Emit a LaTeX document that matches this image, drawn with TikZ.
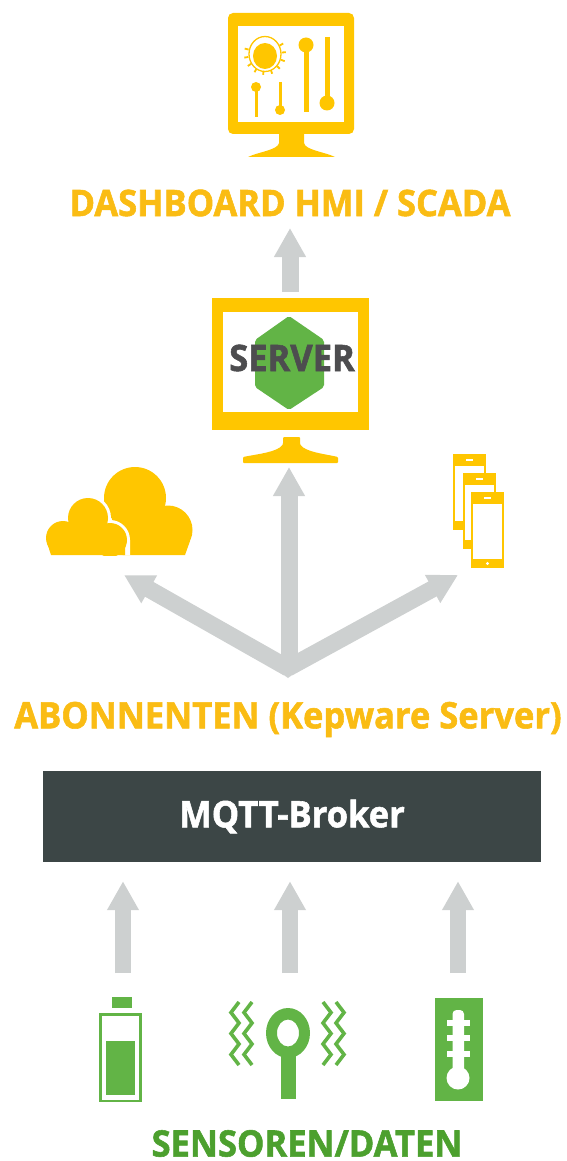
\documentclass[tikz,border=0pt]{standalone}
\usepackage{fontspec}
\setmainfont{Open Sans}[BoldFeatures={FakeBold=1.5,FakeStretch=0.945}]
\usetikzlibrary{positioning,arrows.meta,calc}
\definecolor{myyellow}{RGB}{255, 198, 0}
\definecolor{mytitle}{RGB}{250, 188, 20}
\definecolor{mygreen}{RGB}{98, 180, 70}
\definecolor{mygreentext}{RGB}{76, 160, 46}
\definecolor{mygray}{RGB}{205, 208, 208}
\definecolor{mybroker}{RGB}{60, 70, 70}
\definecolor{mytext}{RGB}{77, 77, 79}
\tikzset{
    flowarrow/.style={draw=mygray, line width=17pt, -{Triangle[length=29pt, width=30pt]}},
    boldtext/.style={font=\fontsize{36.5}{40}\selectfont\bfseries, inner sep=0pt},
    zigzag/.style={draw=mygreen, line width=3.6pt, line join=miter},
}

\begin{document}
\begin{tikzpicture}[x=1pt, y=-1pt]
    \useasboundingbox (0,0) rectangle (566,1161);

    % Dashboard monitor
    \fill[myyellow, rounded corners=5pt] (228,13) rectangle (354,134);
    \fill[white] (238,26) rectangle (344,122);
    \fill[myyellow] (279,134) -- (304,134) -- (304,143) .. controls (305,150) and (325,152) .. (335,157) -- (248,157) .. controls (258,152) and (278,150) .. (279,143) -- cycle;
    % Bulb and sliders
    \fill[myyellow] (265,56) ellipse [x radius=12, y radius=13];
    \draw[myyellow, line width=1.3pt] (265,54) ellipse [x radius=16, y radius=17.5];
    \foreach \a in {-30,-5,...,210} {
        \draw[myyellow, line width=1.8pt] ($(265,54)+(\a:17)$) -- ($(265,54)+(\a:21)$);
    }
    \foreach \x/\ya/\yb/\yk/\r/\w in {256/87/117/87/5/3, 280/82/110/110/5/3, 306/45/112/45/7.5/5, 327/37/103/103/7.5/5} {
        \draw[myyellow, line width=\w pt] (\x,\ya) -- (\x,\yb);
        \fill[myyellow] (\x,\yk) circle [radius=\r];
    }
    \node[boldtext, text=mytitle] (dashboardlabel) at (290,203) {DASHBOARD HMI / SCADA};

    % Server monitor
    \fill[myyellow] (212,298) rectangle (369,430);
    \fill[white] (223,312) rectangle (358,412);
    \fill[myyellow, rounded corners=1pt] (283,437) -- (300,437) -- (300,444) .. controls (305,452) and (325,454) .. (338,457) -- (338,463) -- (243,463) -- (243,457) .. controls (258,454) and (278,452) .. (283,444) -- cycle;
    \fill[mygreen, rounded corners=2pt] (289,316) -- (324,340) -- (324,387) -- (289,410) -- (255,387) -- (255,340) -- cycle;
    \node[boldtext, text=mytext] (serverlabel) at (292,358) {SERVER};

    % Cloud
    \begin{scope}
        \clip (40,440) rectangle (200,555);
        \fill[myyellow] (135,498) circle [radius=31];
        \fill[myyellow] (168,530) circle [radius=24.5];
        \fill[myyellow] (112,510) -- (168,510) -- (168,530) -- (190,541) -- (185,555) -- (112,555) -- cycle;
        \draw[white, line width=6pt] (88,518) circle [radius=20] (63,538) circle [radius=17] (110,540) circle [radius=17] (127,540) -- (127,555);
        \fill[myyellow] (88,518) circle [radius=20];
        \fill[myyellow] (63,538) circle [radius=17];
        \fill[myyellow] (110,540) circle [radius=17];
        \fill[myyellow] (63,538) -- (47.5,544) -- (51,555) -- (125,555) -- (125,540) -- (110,525) -- cycle;
    \end{scope}

    % Phones
    \foreach \x/\y in {453/454, 463/473, 471/492} {
        \fill[white] (\x,\y) rectangle ++(33,76);
        \draw[myyellow, line width=2pt] (\x+1,\y+1) rectangle ++(31,74);
        \fill[myyellow] (\x,\y) rectangle ++(33,12);
        \fill[myyellow] (\x,\y+67) rectangle ++(33,9);
        \fill[white] (\x+13,\y+5) rectangle ++(7,2);
        \fill[white] (\x+16.5,\y+71.5) circle [radius=1.6];
    }

    % Arrows to the subscribers
    \coordinate (junction) at (288,668);
    \coordinate (serverbase) at (289,467);
    \coordinate (cloudtip) at (124,575);
    \coordinate (phonetip) at (458,575);
    \draw[flowarrow] (junction) -- (cloudtip);
    \draw[flowarrow] (junction) -- (phonetip);
    \draw[flowarrow] (289,664) -- (serverbase);
    \fill[mygray] (279,671.5) -- (288,678) -- (297,671.5) -- (288,655) -- cycle;

    % Arrow to the dashboard
    \coordinate (dashfoot) at (290,292);
    \coordinate (dashtip) at (290,228);
    \draw[flowarrow] (dashfoot) -- (dashtip);

    \node[boldtext, text=mytitle] (subscribers) at (288,719.5) {ABONNENTEN (Kepware Server)};

    % Broker
    \node[fill=mybroker, text=white, boldtext, minimum width=498pt, minimum height=91pt] (broker) at (292,816.5) {MQTT-Broker};

    % Arrows from the sensors
    \foreach \name/\x in {batteryfoot/123, probefoot/290, thermofoot/458} {
        \coordinate (\name) at (\x,973);
        \draw[flowarrow, line width=16pt, shorten >=19pt] (\name) -- (\name |- broker.south);
    }

    % Battery
    \fill[mygreen] (112,997) rectangle (132,1008);
    \draw[mygreen, line width=2.8pt] (100.5,1014.5) rectangle (140.5,1101);
    \fill[mygreen] (106,1041) rectangle (135,1095);

    % Probe
    \fill[mygreen, even odd rule] (288,1033) ellipse [x radius=22, y radius=25] (288,1033) ellipse [x radius=11, y radius=13.5];
    \fill[mygreen] (281,1056) rectangle (296,1099);
    \foreach \x in {231,244} {
        \draw[zigzag] (\x+8,1002) -- ++(-8,10.5) -- ++(8,10.5) -- ++(-8,10.5) -- ++(8,10.5) -- ++(-8,10.5) -- ++(8,10.5);
    }
    \foreach \x in {323,336} {
        \draw[zigzag] (\x,1002) -- ++(8,10.5) -- ++(-8,10.5) -- ++(8,10.5) -- ++(-8,10.5) -- ++(8,10.5) -- ++(-8,10.5);
    }

    % Thermometer
    \fill[mygreen] (435,998) rectangle (483,1101);
    \fill[white] (458,1078) circle [radius=11.5];
    \fill[white, rounded corners=4pt] (452.5,1010) rectangle (464,1075);
    \foreach \y in {1023,1038,1054} {
        \fill[white] (447,\y-3) rectangle (470,\y+3);
    }

    \node[boldtext, text=mygreentext] (sensorlabel) at (307,1143.5) {SENSOREN/DATEN};
\end{tikzpicture}
\end{document}
